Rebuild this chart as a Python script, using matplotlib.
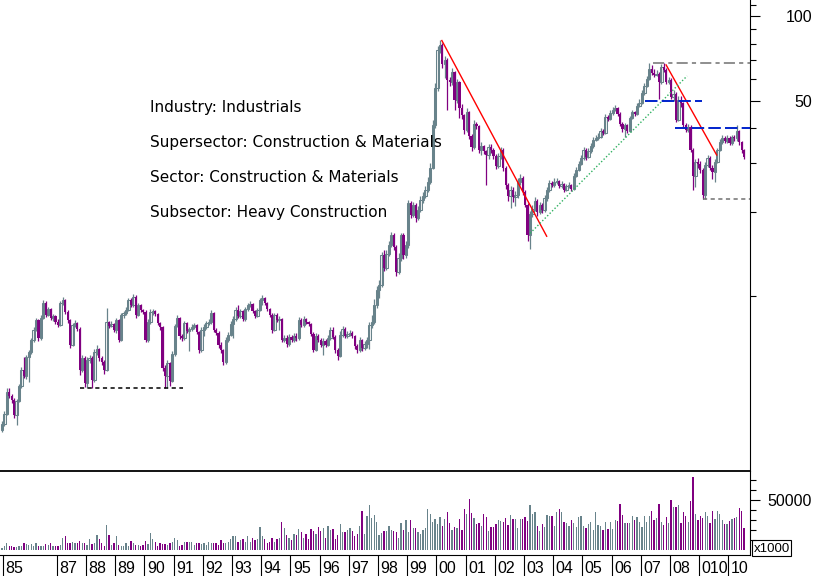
import numpy as np
import matplotlib
matplotlib.use("Agg")
import matplotlib.pyplot as plt
from matplotlib.patches import Rectangle
from matplotlib.ticker import FixedLocator, NullFormatter

plt.rcParams['lines.scale_dashes'] = False

W, H = 817, 576

# monthly candles, Feb 1985 .. Jul 2010 (open = previous close)
first_open = 3.33
close = [
    3.50, 3.80, 4.56, 4.41, 4.27, 3.77, 4.23, 4.79, 5.46, 5.20, 6.08,           # 85
    6.33, 6.99, 7.59, 8.23, 7.10, 8.37, 9.47, 8.58, 9.01, 8.37, 8.51, 8.09,     # 86
    7.90, 9.47, 9.71, 8.80, 8.23, 6.71, 7.90, 8.03, 7.65, 5.46, 6.03, 4.91,     # 87
    5.93, 6.03, 5.03, 6.33, 6.49, 6.03, 5.83, 5.46, 8.09, 7.84, 7.97, 7.59,     # 88
    8.23, 6.99, 8.58, 8.72, 8.94, 9.71, 9.32, 9.95, 8.58, 9.32, 8.94, 8.80,     # 89
    6.99, 8.09, 8.80, 8.87, 8.65, 8.03, 7.77, 5.55, 5.20, 5.78, 4.99, 6.23,     # 90
    7.84, 8.37, 7.22, 7.10, 8.03, 7.53, 7.65, 7.77, 7.90, 7.47, 6.44, 7.59,     # 91
    7.77, 8.03, 8.09, 8.72, 7.59, 7.41, 6.71, 6.44, 5.83, 6.99, 7.28, 7.97,     # 92
    8.30, 8.94, 8.51, 8.87, 8.30, 9.01, 9.32, 9.40, 8.87, 8.51, 8.94, 9.71,     # 93
    9.87, 9.47, 9.01, 8.58, 7.59, 8.58, 8.23, 8.30, 6.99, 7.10, 6.77, 7.16,     # 94
    6.99, 7.22, 7.10, 8.23, 7.90, 8.30, 8.09, 7.97, 7.35, 6.44, 7.22, 6.99,     # 95
    6.71, 6.93, 6.71, 7.10, 7.59, 7.16, 6.44, 6.13, 7.28, 7.65, 7.22, 7.35,     # 96
    7.41, 7.22, 6.66, 6.44, 6.99, 6.55, 6.77, 6.99, 7.90, 8.09, 9.32, 10.5,     # 97
    11.0, 14.0, 12.6, 14.2, 15.3, 16.5, 15.0, 12.2, 13.7, 16.5, 14.0, 15.3,     # 98
    21.6, 19.5, 21.2, 19.0, 20.3, 22.1, 22.8, 24.0, 25.6, 28.8, 40.9, 55.5,     # 99
    75.9, 79.0, 67.6, 69.9, 59.3, 58.3, 63.3, 50.3, 58.3, 47.1, 44.5, 39.3,     # 00
    45.5, 37.4, 34.1, 41.3, 40.6, 33.3, 34.4, 33.0, 32.0, 34.1, 33.3, 31.7,     # 01
    29.2, 31.7, 33.3, 28.8, 25.0, 22.8, 24.0, 22.6, 23.0, 25.6, 26.5, 23.6,     # 02
    21.2, 16.5, 19.7, 20.6, 21.9, 20.0, 21.2, 20.3, 22.4, 24.0, 25.4, 25.0,     # 03
    25.6, 25.8, 24.8, 25.2, 24.0, 24.8, 25.0, 24.2, 26.9, 28.3, 29.7, 31.2,     # 04
    33.3, 31.5, 33.0, 34.4, 36.2, 36.8, 37.1, 39.0, 38.4, 43.8, 43.1, 45.2,     # 05
    46.3, 47.1, 44.9, 41.3, 39.6, 40.9, 39.0, 43.4, 45.5, 44.9, 47.9, 49.1,     # 06
    53.3, 56.4, 59.8, 64.9, 62.8, 61.8, 62.3, 58.3, 66.0, 64.4, 58.3, 59.3,     # 07
    51.6, 52.8, 42.7, 50.3, 48.9, 40.9, 39.3, 40.3, 33.3, 26.9, 30.2, 29.7,     # 08
    28.3, 23.0, 29.5, 31.2, 28.8, 27.8, 30.2, 33.3, 35.6, 36.8, 35.9, 36.8,     # 09
    35.3, 37.1, 36.8, 39.0, 35.6, 33.3, 31.5,                                   # 10
]
high = [
    3.58, 3.90, 4.70, 4.70, 4.48, 4.33, 4.30, 4.88, 5.60, 6.05, 6.20,
    6.45, 7.10, 7.75, 8.40, 8.30, 8.55, 9.70, 9.60, 9.20, 9.10, 8.65, 8.60,
    8.30, 9.65, 9.95, 9.80, 8.95, 8.30, 8.05, 8.25, 8.10, 7.80, 6.20, 6.10,
    6.05, 6.15, 6.10, 6.50, 6.70, 6.55, 6.10, 5.95, 9.10, 8.20, 8.15, 8.05,
    8.40, 8.30, 8.75, 8.90, 9.15, 9.90, 9.85, 10.2, 10.1, 9.50, 9.40, 9.05,
    8.95, 8.30, 9.00, 9.05, 8.95, 8.70, 8.10, 7.85, 5.70, 5.95, 5.85, 6.40,
    8.00, 8.60, 8.45, 7.35, 8.20, 8.10, 7.80, 7.95, 8.05, 8.00, 7.55, 7.75,
    7.95, 8.20, 8.30, 8.95, 8.80, 7.70, 7.50, 6.85, 6.50, 7.15, 7.45, 8.15,
    8.50, 9.15, 9.30, 9.05, 8.95, 9.20, 9.50, 9.65, 9.50, 8.95, 9.10, 9.90,
    10.1, 9.95, 9.55, 9.10, 8.70, 8.75, 8.70, 8.50, 8.40, 7.30, 7.25, 7.35,
    7.30, 7.40, 7.40, 8.45, 8.40, 8.50, 8.40, 8.20, 8.05, 7.45, 7.40, 7.35,
    7.10, 7.10, 7.05, 7.30, 7.80, 7.80, 7.25, 6.55, 7.50, 7.85, 7.75, 7.55,
    7.60, 7.55, 7.30, 6.75, 7.15, 7.05, 6.95, 7.15, 8.10, 8.55, 9.80, 10.9,
    11.4, 14.4, 14.6, 14.6, 15.8, 17.0, 16.9, 15.3, 14.3, 16.9, 16.8, 15.8,
    22.1, 22.0, 21.8, 21.6, 21.0, 22.8, 23.6, 24.8, 26.6, 29.9, 42.5, 58.0,
    78.5, 82.3, 80.5, 72.0, 71.0, 61.0, 65.5, 64.0, 60.0, 59.0, 48.5, 45.0,
    47.0, 46.0, 38.0, 42.5, 42.0, 41.0, 35.5, 34.8, 33.3, 35.0, 35.0, 33.8,
    32.2, 32.5, 34.2, 33.8, 29.2, 25.4, 24.8, 24.5, 23.8, 26.4, 27.4, 26.9,
    24.0, 21.6, 20.2, 21.2, 22.6, 22.3, 21.8, 21.6, 23.0, 24.6, 26.0, 25.8,
    26.4, 26.4, 26.0, 25.8, 25.4, 25.3, 25.6, 25.2, 27.5, 29.0, 30.4, 32.0,
    34.2, 33.8, 33.8, 35.2, 37.0, 37.7, 38.2, 40.0, 39.6, 44.8, 44.6, 46.4,
    47.6, 48.4, 47.6, 45.5, 41.8, 41.6, 41.4, 44.2, 46.5, 46.0, 49.0, 50.5,
    54.8, 58.0, 61.5, 68.0, 66.8, 65.0, 64.5, 63.5, 67.6, 68.0, 65.2, 61.0,
    60.5, 54.8, 53.5, 51.8, 52.0, 49.6, 41.6, 41.3, 40.9, 33.8, 31.0, 31.2,
    30.5, 28.8, 30.2, 32.0, 31.8, 29.4, 31.0, 34.0, 36.4, 37.6, 37.4, 37.6,
    37.4, 37.8, 37.8, 41.0, 39.4, 35.8, 33.5,
]
low = [
    3.28, 3.45, 3.76, 4.32, 4.15, 3.68, 3.47, 4.18, 4.72, 5.10, 5.08,
    4.95, 6.25, 6.90, 7.50, 6.95, 7.00, 8.30, 8.45, 8.50, 8.25, 8.20, 7.95,
    7.75, 7.85, 9.30, 8.65, 8.05, 6.55, 6.65, 7.80, 7.55, 5.25, 5.35, 4.75,
    4.70, 5.80, 4.70, 4.95, 6.20, 5.90, 5.70, 5.30, 5.40, 7.70, 7.75, 7.45,
    7.40, 6.85, 6.95, 8.40, 8.55, 8.85, 9.15, 9.20, 8.40, 8.50, 8.80, 8.65,
    6.85, 6.90, 7.95, 8.60, 8.50, 7.90, 7.60, 5.40, 4.70, 4.70, 4.80, 4.95,
    6.10, 7.75, 7.05, 6.95, 7.00, 7.40, 6.40, 7.55, 7.65, 7.35, 6.30, 6.35,
    7.20, 7.65, 7.90, 8.00, 7.45, 7.25, 6.55, 6.30, 5.69, 5.75, 6.85, 7.20,
    7.10, 8.20, 8.40, 8.40, 8.15, 8.20, 8.90, 9.15, 8.75, 8.40, 8.45, 8.85,
    9.30, 9.35, 8.90, 8.45, 7.40, 7.50, 8.10, 7.60, 6.85, 6.85, 6.60, 6.65,
    6.85, 6.90, 6.95, 7.00, 7.75, 7.80, 7.95, 7.85, 7.20, 6.35, 6.40, 6.85,
    6.60, 6.20, 6.60, 6.65, 7.00, 7.05, 6.30, 5.95, 6.05, 7.15, 7.10, 7.10,
    7.20, 7.10, 6.50, 6.30, 6.35, 6.40, 6.45, 6.55, 6.50, 7.70, 7.95, 9.10,
    9.90, 10.8, 12.3, 12.4, 13.9, 15.0, 14.6, 11.8, 12.0, 13.4, 13.6, 13.7,
    14.9, 19.0, 19.2, 18.5, 18.7, 20.0, 21.5, 22.4, 23.6, 25.2, 28.4, 40.0,
    54.0, 74.0, 65.5, 60.5, 46.3, 56.5, 57.0, 46.5, 49.0, 43.5, 43.0, 38.0,
    38.5, 36.5, 33.0, 33.5, 39.5, 32.5, 32.0, 32.2, 25.0, 31.0, 32.5, 31.0,
    28.6, 28.8, 31.0, 28.0, 24.2, 21.9, 20.7, 21.8, 21.0, 22.5, 25.0, 23.0,
    20.8, 15.8, 14.8, 19.2, 20.2, 19.4, 19.7, 19.9, 20.0, 22.0, 23.6, 24.6,
    24.5, 25.2, 24.4, 24.3, 23.5, 23.7, 24.4, 23.8, 24.0, 26.6, 28.0, 29.4,
    30.8, 30.8, 31.2, 32.6, 34.0, 35.8, 36.3, 36.7, 37.6, 38.0, 42.4, 42.6,
    44.6, 45.8, 44.2, 40.5, 38.8, 37.2, 38.4, 38.6, 43.0, 44.2, 44.5, 47.4,
    48.6, 52.5, 55.8, 59.2, 62.0, 61.0, 61.2, 50.5, 57.5, 63.5, 57.5, 57.2,
    50.5, 50.0, 41.8, 42.2, 47.6, 40.2, 38.5, 38.6, 32.8, 24.0, 24.5, 28.8,
    27.6, 22.3, 22.2, 29.0, 28.2, 26.2, 25.6, 30.0, 33.0, 35.0, 35.2, 35.4,
    34.8, 34.6, 35.8, 36.0, 34.8, 32.6, 31.0,
]
# volume, thousands
volume_k = [
    1.7, 4, 6.7, 4, 4, 3, 2.7, 4, 4, 6.7, 6,
    5, 6, 4, 6.7, 4, 4, 4, 6, 5, 6.7, 4, 4,
    4, 5, 12, 14, 6.7, 6.7, 8, 6.7, 6.7, 9, 6.7, 6.7,
    5, 11, 6, 6.7, 15, 11, 6.7, 4, 25, 15, 5, 6.7,
    14, 5, 4, 4, 6.7, 4, 9, 6.7, 5, 5, 4, 5,
    9, 6, 17, 11, 8, 4, 6.7, 6, 6, 5, 6.7, 8,
    12, 10, 4, 5, 8, 8, 8, 8, 5, 6.7, 6.7, 6,
    6.7, 5, 8, 6.7, 6.7, 6.7, 5, 10, 6.7, 6.7, 8, 11,
    14, 14, 8, 10, 11, 8, 14, 8, 12, 10, 11, 23,
    14, 11, 6.7, 8, 12, 8, 11, 12, 28, 22, 15, 12,
    10, 16, 15, 21, 18, 12, 16, 11, 21, 19, 16, 23,
    19, 22, 12, 24, 20, 21, 11, 15, 26, 18, 18, 20,
    22, 19, 14, 16, 24, 39, 16, 34, 45, 32, 35, 28,
    15, 17, 19, 19, 24, 20, 19, 18, 12, 27, 20, 30,
    18, 30, 22, 22, 18, 16, 20, 22, 41, 36, 28, 31,
    26, 33, 24, 31, 38, 27, 20, 23, 22, 31, 20, 41,
    36, 51, 37, 32, 26, 27, 24, 36, 33, 19, 23, 23,
    26, 30, 29, 28, 32, 25, 35, 31, 31, 22, 31, 31,
    33, 29, 45, 36, 38, 24, 19, 26, 23, 35, 34, 34,
    24, 38, 41, 38, 28, 27, 24, 30, 27, 23, 33, 34,
    24, 22, 26, 28, 20, 38, 25, 24, 20, 28, 21, 28,
    21, 30, 29, 46, 35, 27, 27, 27, 34, 30, 33, 28,
    23, 34, 28, 34, 39, 30, 32, 46, 28, 25, 33, 27,
    50, 43, 43, 45, 27, 38, 34, 28, 49, 73, 36, 30,
    34, 32, 38, 34, 27, 39, 31, 39, 36, 30, 26, 26,
    29, 31, 32, 33, 42, 39, 22,
]

year_marks = [1985.15] + list(range(1987, 2011))
year_labels = ["85", "87", "88", "89", "90", "91", "92", "93", "94", "95", "96",
               "97", "98", "99", "00", "01", "02", "03", "04", "05", "06", "07",
               "08", "010", "10"]

info_lines = ["Industry: Industrials",
              "Supersector: Construction & Materials",
              "Sector: Construction & Materials",
              "Subsector: Heavy Construction"]

# drawn trend lines / levels (decimal year, price)
red_a = ([2000.19, 2003.78], [82.0, 16.4])
red_b = ([2007.87, 2009.60], [67.1, 32.0])
green_up = ([2003.21, 2008.59], [16.8, 61.3])

UP = "#68838b"
DOWN = "#800080"
X0, X1 = 1985.058, 2010.743

close = np.array(close)
high = np.array(high)
low = np.array(low)
vol = np.array(volume_k) * 1000
n = len(close)
t = 1985 + (np.arange(1, n + 1) + 0.5) / 12
opn = np.r_[first_open, close[:-1]]
up = close >= opn
cols = np.where(up, UP, DOWN)


def fx(px):
    return px / W


def fy(py):
    return 1 - py / H


fig = plt.figure(figsize=(W / 100, H / 100), dpi=100)
ax = fig.add_axes([0, fy(471), fx(750), 471 / H])
vax = fig.add_axes([0, fy(555), fx(750), 84 / H])
lax = fig.add_axes([0, 0, fx(750), fy(555)])

# price candles
ax.set_yscale('log')
ax.vlines(t, low, high, colors=cols, lw=0.9)
ax.bar(t[up], (close - opn)[up], bottom=opn[up], width=2.3 / 29.2,
       facecolor='white', edgecolor=UP, lw=0.75)
ax.bar(t[~up], (opn - close)[~up], bottom=close[~up], width=2.2 / 29.2,
       color=DOWN, lw=0)

ax.plot(*red_a, color='red', lw=1.0)
ax.plot(*red_b, color='red', lw=1.0)
ax.plot(*green_up, color='#2fb060', lw=1.0, ls=(0, (1, 1.5)))
ax.hlines(50, 2007.15, 2009.10, color='#0022cc', lw=1.4, ls=(0, (9, 3)))
ax.hlines(40, 2008.18, X1, color='#0022cc', lw=1.4, ls=(0, (9, 3)))
ax.hlines(68, 2007.42, X1, color='#707070', lw=1.1, ls=(0, (8, 3, 3, 3)))
ax.hlines(22.2, 2009.12, X1, color='#707070', lw=1.1, ls=(0, (3, 2.5)))
ax.hlines(4.71, 1987.80, 1991.33, color='black', lw=1.1, ls=(0, (3, 2.5)))

ax.set_xlim(X0, X1)
ax.set_ylim(2.3787, 114.45)
ax.set_xticks([])
ax.yaxis.tick_right()
ax.yaxis.set_major_locator(FixedLocator([50, 100]))
ax.yaxis.set_minor_locator(FixedLocator([10, 20, 30, 40, 60, 70, 80, 90, 110]))
ax.yaxis.set_major_formatter(NullFormatter())
ax.yaxis.set_minor_formatter(NullFormatter())
ax.tick_params(axis='y', which='major', length=7, width=0.8, direction='out')
ax.tick_params(axis='y', which='minor', length=4, width=0.8, direction='out')
for s in ['left', 'top', 'bottom']:
    ax.spines[s].set_visible(False)
ax.spines['right'].set_linewidth(0.8)

# volume
vax.bar(t, vol, width=1.3 / 29.2, color=cols, lw=0)
vax.set_xlim(X0, X1)
vax.set_ylim(-5000, 79000)
vax.set_xticks([])
vax.yaxis.tick_right()
vax.yaxis.set_major_locator(FixedLocator([50000]))
vax.yaxis.set_minor_locator(FixedLocator([10000, 20000, 30000, 40000, 60000, 70000]))
vax.yaxis.set_major_formatter(NullFormatter())
vax.yaxis.set_minor_formatter(NullFormatter())
vax.tick_params(axis='y', which='major', length=7, width=0.8, direction='out')
vax.tick_params(axis='y', which='minor', length=4, width=0.8, direction='out')
vax.spines['left'].set_visible(False)
vax.spines['top'].set_linewidth(1.3)
vax.spines['right'].set_linewidth(0.8)
vax.spines['bottom'].set_linewidth(0.8)

# date label row
lax.set_xlim(X0, X1)
lax.set_ylim(0, 1)
lax.axis('off')
lax.vlines(year_marks, 0, 1, color='black', lw=0.8)
for m, lab in zip(year_marks, year_labels):
    lax.text(m + 0.085, 3 / 21, lab, va='baseline', ha='left',
             fontsize=11.5, family='Liberation Sans')

num_font = dict(fontsize=11.5, family='Liberation Sans', ha='right', va='baseline')
fig.text(fx(812), fy(22), "100", **num_font)
fig.text(fx(812), fy(107), "50", **num_font)
fig.text(fx(812), fy(506), "50000", **num_font)

fig.patches.append(Rectangle((fx(752), fy(556)), fx(39), 16 / H, fill=False,
                             edgecolor='black', lw=0.8, transform=fig.transFigure))
fig.text(fx(754), fy(552), "x1000", fontsize=9.5, family='Liberation Sans',
         ha='left', va='baseline')

for k, line in enumerate(info_lines):
    fig.text(fx(150), fy(112 + 35 * k), line, fontsize=11, family='DejaVu Sans',
             ha='left', va='baseline')

fig.savefig('out.png', dpi=100)
